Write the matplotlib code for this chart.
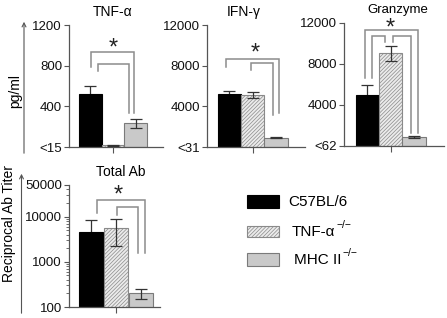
import matplotlib
matplotlib.use("Agg")
import matplotlib.pyplot as plt
from matplotlib.patches import Rectangle, FancyArrowPatch
from matplotlib.ticker import FixedLocator, FixedFormatter, NullFormatter

plt.rcParams['font.family'] = ['Liberation Sans', 'DejaVu Sans']
plt.rcParams['hatch.linewidth'] = 0.5

# ---------------- data ----------------
groups = ['C57BL/6', 'TNF-α', 'MHC II']
group_sup = ['', '−/−', '−/−']

tnf_vals = [520, 15, 235]
tnf_err = [80, 4, 45]
tnf_ticks = [0, 400, 800, 1200]
tnf_ticklabels = ['<15', '400', '800', '1200']

ifn_vals = [5200, 5150, 900]
ifn_err = [300, 300, 60]
ifn_ticks = [0, 4000, 8000, 12000]
ifn_ticklabels = ['<31', '4000', '8000', '12000']

gzm_vals = [5000, 9000, 830]
gzm_err = [900, 720, 100]
gzm_ticks = [0, 4000, 8000, 12000]
gzm_ticklabels = ['<62', '4000', '8000', '12000']

ab_vals = [4500, 5500, 200]
ab_err = [3900, 3300, 50]
ab_ticks = [100, 1000, 10000, 50000]
ab_ticklabels = ['100', '1000', '10000', '50000']

# significance brackets: (x_left, x_right, y_top, y_left_end, y_right_end)
tnf_brackets = [(0.05, 1.92, 931, 790, 331), (0.34, 1.70, 813, 750, 331)]
ifn_brackets = [(-0.14, 2.14, 8626, 7898, 3315), (0.92, 1.86, 8233, 7574, 3148)]
gzm_brackets = [(-0.10, 2.19, 11271, 6650, 1263), (0.19, 0.76, 10717, 6650, 10134),
                (1.09, 1.86, 10717, 10134, 1263)]
ab_brackets = [(0.23, 2.17, 23300, 11800, 1540), (1.03, 1.89, 16100, 10800, 1540)]
stars = {'tnf': (1.0, 1036), 'ifn': (1.1, 9866), 'gzm': (0.97, 12078), 'ab': (1.1, 42300)}

# ---------------- style ----------------
face = ['#000000', '#ebebeb', '#c9c9c9']
edge = ['#000000', '#8a8a8a', '#7a7a7a']
hatch = [None, '/////////', None]
axis_col = '#555555'
br_col = '#8c8c8c'

W, H = 447, 318
fig = plt.figure(figsize=(W / 100, H / 100), dpi=100)


def add_ax(l, t, r, b):
    return fig.add_axes([l / W, 1 - b / H, (r - l) / W, (b - t) / H])


def style(ax):
    for s in ['top', 'right']:
        ax.spines[s].set_visible(False)
    for s in ['left', 'bottom']:
        ax.spines[s].set_color(axis_col)
        ax.spines[s].set_linewidth(0.9)
    ax.tick_params(axis='y', direction='out', length=3.5, width=0.8, color=axis_col,
                   labelsize=9.5, pad=1.5, labelcolor='#111111')
    ax.tick_params(axis='x', direction='out', length=4, width=0.8, color=axis_col,
                   labelbottom=False)
    ax.set_xticks([1])
    ax.patch.set_alpha(0)


def draw_panel(ax, vals, errs, width, brackets, star):
    for i in range(len(vals)):
        ax.bar(i, vals[i], width=width, color=face[i], edgecolor=edge[i],
               hatch=hatch[i], linewidth=0.8, zorder=2)
        # black bar: error line hidden behind the bar below its top
        ax.errorbar([i], [vals[i]], yerr=[errs[i]], fmt='none', ecolor='#333333',
                    elinewidth=0.9, capsize=4.5, capthick=0.9,
                    zorder=1 if i == 0 else 3)
    for (xl, xr, yt, yl, yr) in brackets:
        ax.plot([xl, xl, xr, xr], [yl, yt, yt, yr], color=br_col, lw=1.1,
                clip_on=False, zorder=4, solid_joinstyle='miter')
    ax.annotate('*', xy=star, xytext=(0, -9.5), textcoords='offset points',
                ha='center', va='baseline', fontsize=17, color='#222222',
                annotation_clip=False)


# Panel 1 TNF
ax1 = add_ax(69, 25, 163, 147)
style(ax1)
draw_panel(ax1, tnf_vals, tnf_err, 1.0, tnf_brackets, stars['tnf'])
ax1.set_xlim(-0.94, 3.2)
ax1.set_ylim(0, 1200)
ax1.set_yticks(tnf_ticks)
ax1.set_yticklabels(tnf_ticklabels)

# Panel 2 IFN
ax2 = add_ax(207, 25, 305, 147)
style(ax2)
draw_panel(ax2, ifn_vals, ifn_err, 1.0, ifn_brackets, stars['ifn'])
ax2.set_xlim(-0.95, 3.24)
ax2.set_ylim(0, 12000)
ax2.set_yticks(ifn_ticks)
ax2.set_yticklabels(ifn_ticklabels)

# Panel 3 Granzyme
ax3 = add_ax(344, 22.5, 444, 146)
style(ax3)
draw_panel(ax3, gzm_vals, gzm_err, 1.0, gzm_brackets, stars['gzm'])
ax3.set_xlim(-1.0, 3.29)
ax3.set_ylim(0, 12000)
ax3.set_yticks(gzm_ticks)
ax3.set_yticklabels(gzm_ticklabels)

# Panel 4 Total Ab (log)
ax4 = add_ax(69, 185, 160, 307)
style(ax4)
ax4.set_yscale('log')
draw_panel(ax4, ab_vals, ab_err, 0.96, ab_brackets, stars['ab'])
ax4.set_xlim(-0.88, 2.77)
ax4.set_ylim(100, 50000)
ax4.yaxis.set_major_locator(FixedLocator(ab_ticks))
ax4.yaxis.set_major_formatter(FixedFormatter(ab_ticklabels))
minors = [m * d for d in (100, 1000, 10000) for m in range(2, 10) if m * d < 50000]
ax4.yaxis.set_minor_locator(FixedLocator(minors))
ax4.yaxis.set_minor_formatter(NullFormatter())
ax4.tick_params(axis='y', which='minor', length=2, width=0.6, color=axis_col)

# Titles
fig.text(113 / W, 1 - 12 / H, 'TNF-α', ha='center', va='center', fontsize=10)
fig.text(243.5 / W, 1 - 12 / H, 'IFN-γ', ha='center', va='center', fontsize=10)
fig.text(398 / W, 1 - 10 / H, 'Granzyme', ha='center', va='center', fontsize=9.5)
fig.text(121 / W, 1 - 172 / H, 'Total Ab', ha='center', va='center', fontsize=10)

# Y labels with arrows
fig.text(15 / W, 1 - 91 / H, 'pg/ml', rotation=90, ha='center', va='center', fontsize=10)
fig.text(9 / W, 1 - 224 / H, 'Reciprocal Ab Titer', rotation=90, ha='center',
         va='center', fontsize=10)
for (xa, y0, y1) in [(24, 156, 19), (21.5, 316, 171)]:
    fig.add_artist(FancyArrowPatch((xa / W, 1 - y0 / H), (xa / W, 1 - y1 / H),
                                   transform=fig.transFigure, arrowstyle='->',
                                   mutation_scale=7, lw=0.8, color=axis_col))

# Legend
leg_boxes = [(247, 195, 279, 208), (247, 226, 279, 237), (247, 253, 279, 266)]
leg_text_x = [288, 292, 294]
fig.canvas.draw()
for i, (l, t, r, b) in enumerate(leg_boxes):
    fig.add_artist(Rectangle((l / W, 1 - b / H), (r - l) / W, (b - t) / H,
                             transform=fig.transFigure, facecolor=face[i],
                             edgecolor=edge[i], hatch=hatch[i], linewidth=0.8))
    tx = fig.text(leg_text_x[i] / W, 1 - ((t + b) / 2) / H, groups[i], ha='left',
                  va='center', fontsize=11)
    if group_sup[i]:
        bb = tx.get_window_extent(renderer=fig.canvas.get_renderer())
        fig.text((bb.x1 + 1) / W, (bb.y1 - 5) / H, group_sup[i], ha='left',
                 va='bottom', fontsize=7.5)

fig.savefig('out.png', dpi=100)
